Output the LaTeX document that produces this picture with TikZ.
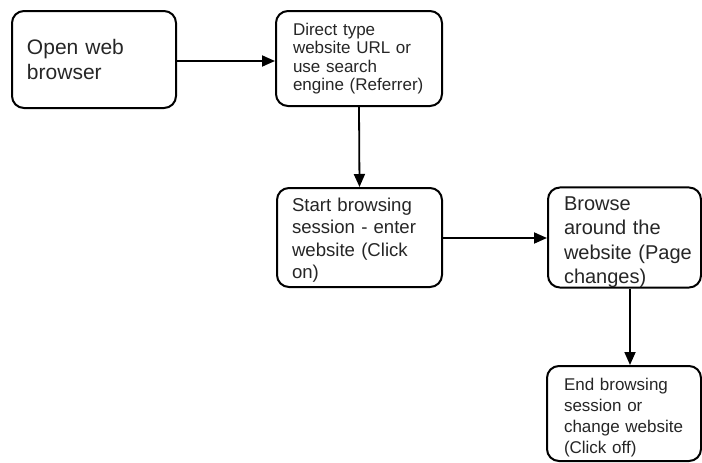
\documentclass[tikz,border=0pt]{standalone}
\usepackage{fontspec}
\setmainfont{Liberation Sans}
\usetikzlibrary{arrows.meta}
\begin{document}
\begin{tikzpicture}[x=1pt,y=-1pt,
  box/.style={draw=black, line width=2pt, rounded corners=12pt, fill=white, align=left, inner sep=0pt, text=black!85},
  flow/.style={draw=black, line width=1.8pt, -{Triangle[length=13pt,width=11pt]}}]
\useasboundingbox (0,0) rectangle (702,463);
\node[box, minimum width=164pt, minimum height=97pt, text width=134pt,
  font=\fontsize{21}{25}\selectfont] (b1) at (94,59.5)
  {Open web\\browser};
\node[box, minimum width=166pt, minimum height=95pt, text width=132pt,
  font=\fontsize{17}{18.3}\selectfont] (b2) at (359,58.5)
  {Direct~type\\website~URL~or\\use~search\\engine~(Referrer)};
\node[box, minimum width=165pt, minimum height=99pt, text width=135pt,
  font=\fontsize{18.6}{22.3}\selectfont] (b3) at (359.5,237.5)
  {\rule{0pt}{19pt}Start~browsing\\session~-~enter\\website~(Click\\on)};
\node[box, minimum width=153pt, minimum height=99pt, text width=121pt,
  font=\fontsize{20}{24.3}\selectfont] (b4) at (624.5,237.5)
  {\rule{0pt}{23pt}Browse\\around~the\\website~(Page\\changes)};
\node[box, minimum width=154pt, minimum height=95pt, text width=120pt,
  font=\fontsize{17}{21}\selectfont] (b5) at (624,413.5)
  {\rule{0pt}{20.5pt}End~browsing\\session~or\\change~website\\(Click~off)};
\draw[flow] ([yshift=-1.5pt]b1.east) -- ([yshift=-1.5pt]b1.east -| b2.west);
\draw[flow] (b2.south) -- (b3.north);
\draw[flow] ([yshift=-0.5pt]b3.east) -- ([yshift=-0.5pt]b3.east -| b4.west);
\draw[flow] ([xshift=5.5pt]b4.south) -- ([xshift=5.5pt]b4.south |- b5.north);
\end{tikzpicture}
\end{document}
